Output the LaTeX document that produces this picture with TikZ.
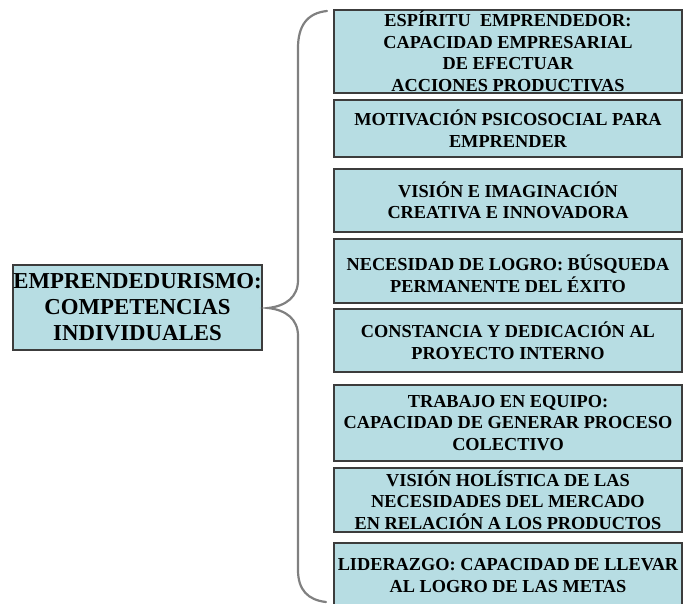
\documentclass[tikz,border=0pt]{standalone}
\usepackage{fontspec}
\setmainfont{Liberation Serif}
\usetikzlibrary{positioning,calc}
\definecolor{BoxTeal}{RGB}{183,221,227}
\definecolor{EdgeGray}{RGB}{60,60,60}
\tikzset{item/.style={rectangle,draw=EdgeGray,line width=1.5pt,fill=BoxTeal,minimum width=348pt,inner sep=0pt,align=center,font=\fontsize{18.3}{21.5}\selectfont\bfseries},root/.style={rectangle,draw=EdgeGray,line width=1.5pt,fill=BoxTeal,minimum width=249pt,minimum height=85pt,inner sep=0pt,align=center,font=\fontsize{22.8}{26}\selectfont\bfseries},curly/.style={draw=black!50,line width=2.2pt,line cap=round}}

\begin{document}
\begin{tikzpicture}[x=1pt,y=-1pt]
\clip (0,0) rectangle (683,604);
\node[root] (em) at (137.5,307.5) {EMPRENDEDURISMO:\\COMPETENCIAS\\INDIVIDUALES};
\node[item,minimum height=83pt] (c1) at (508,51.5) {ESPÍRITU\ \ EMPRENDEDOR:\\CAPACIDAD EMPRESARIAL\\DE EFECTUAR\\ACCIONES PRODUCTIVAS};
\node[item,minimum height=57pt] (c2) at (508,128.5) {MOTIVACIÓN PSICOSOCIAL PARA\\EMPRENDER};
\node[item,minimum height=63pt] (c3) at (508,200.5) {VISIÓN E IMAGINACIÓN\\CREATIVA E INNOVADORA};
\node[item,minimum height=64pt] (c4) at (508,271) {\mbox{}\\NECESIDAD DE LOGRO: BÚSQUEDA\\PERMANENTE DEL ÉXITO};
\node[item,minimum height=63pt] (c5) at (508,340.5) {CONSTANCIA Y DEDICACIÓN AL\\PROYECTO INTERNO};
\node[item,minimum height=76pt] (c6) at (508,423) {TRABAJO EN EQUIPO:\\CAPACIDAD DE GENERAR PROCESO\\COLECTIVO};
\node[item,minimum height=64pt] (c7) at (508,500) {VISIÓN HOLÍSTICA DE LAS\\NECESIDADES DEL MERCADO\\EN RELACIÓN A LOS PRODUCTOS};
\node[item,minimum height=65pt] (c8) at (508,575.5) {LIDERAZGO: CAPACIDAD DE LLEVAR\\AL LOGRO DE LAS METAS};
% brace
\coordinate (tip) at (268,308);
\draw[curly] (327,11) .. controls (307,13) and (298,26) .. (298,48) -- (298,280)
  .. controls (298,297) and (286,306) .. (tip)
  .. controls (286,310) and (298,319) .. (298,336) -- (298,570)
  .. controls (298,590) and (308,600) .. (326,602);
\end{tikzpicture}
\end{document}
